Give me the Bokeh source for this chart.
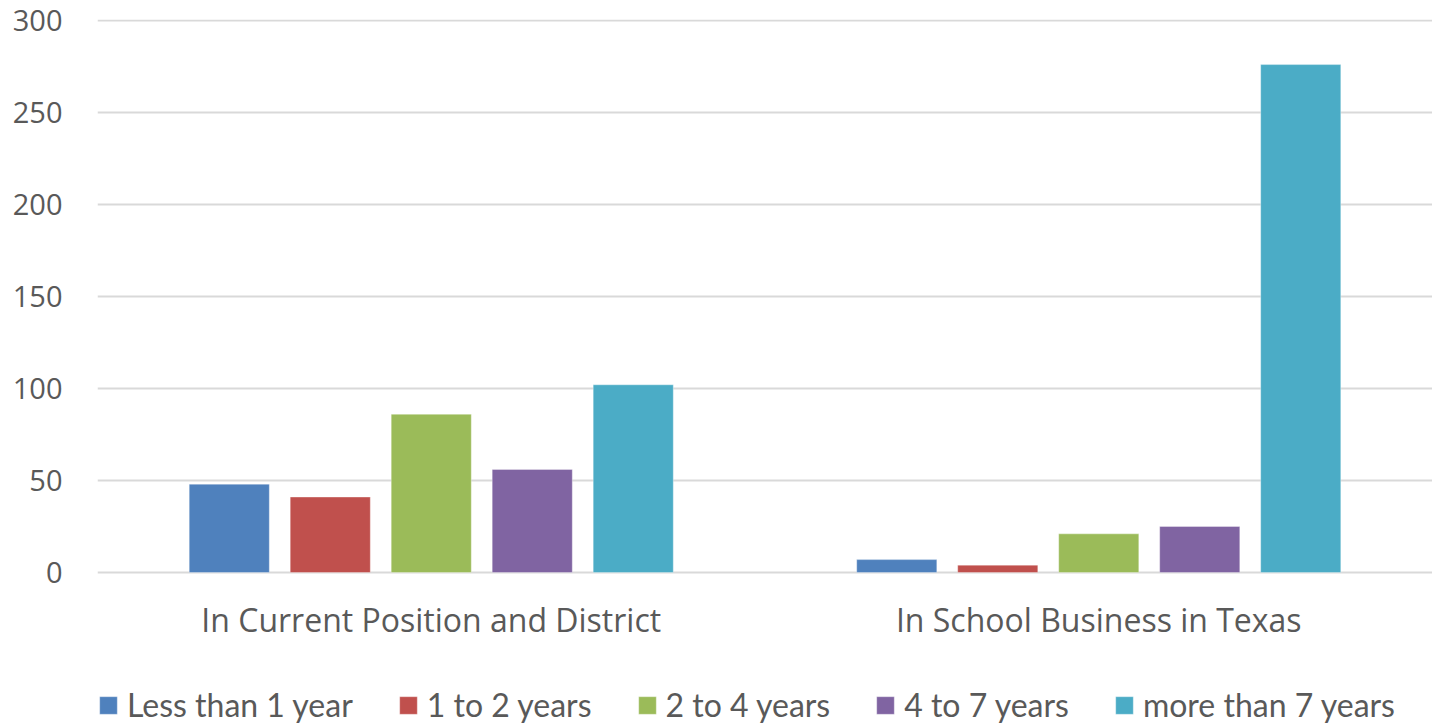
from bokeh.plotting import figure
from bokeh.models import ColumnDataSource, FactorRange, Legend, LegendItem, Range1d, FixedTicker
from bokeh.transform import dodge
from bokeh.embed import file_html
from bokeh.resources import INLINE

categories = ["In Current Position and District", "In School Business in Texas"]
series_names = ["Less than 1 year", "1 to 2 years", "2 to 4 years", "4 to 7 years", "more than 7 years"]
less_than_1 = [48, 7]
one_to_two = [41, 4]
two_to_four = [86, 21]
four_to_seven = [56, 25]
more_than_seven = [102, 276]
colors = ["#4F81BD", "#C0504D", "#9BBB59", "#8064A2", "#4BACC6"]
y_ticks = [0, 50, 100, 150, 200, 250, 300]

source = ColumnDataSource(data=dict(
    cat=categories,
    s0=less_than_1, s1=one_to_two, s2=two_to_four, s3=four_to_seven, s4=more_than_seven,
))

# frame extends below zero so that category labels and legend sit inside it
p = figure(
    x_range=FactorRange(factors=categories, range_padding=0),
    y_range=Range1d(-82.6, 300.5),
    frame_width=1335, frame_height=705,
    output_backend="svg", toolbar_location=None,
    min_border_left=97, min_border_right=0, min_border_top=19, min_border_bottom=0,
)

step = 0.1513
bw = 0.12
renderers = []
for i, key in enumerate(["s0", "s1", "s2", "s3", "s4"]):
    r = p.vbar(x=dodge("cat", (i - 2) * step, range=p.x_range), top=key, width=bw,
               source=source, fill_color=colors[i], line_color="white", line_alpha=0.35, line_width=1)
    renderers.append(r)

p.outline_line_color = None
p.xgrid.grid_line_color = None
p.ygrid.grid_line_color = "#d9d9d9"
p.ygrid.grid_line_width = 2
p.yaxis.ticker = FixedTicker(ticks=y_ticks)

p.yaxis.axis_line_color = None
p.yaxis.major_tick_line_color = None
p.yaxis.minor_tick_line_color = None
p.yaxis.major_tick_out = 0
p.yaxis.major_label_standoff = 35
p.yaxis.major_label_text_font = "Open Sans"
p.yaxis.major_label_text_font_size = "29px"
p.yaxis.major_label_text_color = "#595959"

p.xaxis.fixed_location = 0
p.xaxis.axis_line_color = None
p.xaxis.major_tick_line_color = None
p.xaxis.minor_tick_line_color = None
p.xaxis.major_tick_out = 0
p.xaxis.major_label_standoff = 26
p.xaxis.major_label_text_font = "Open Sans"
p.xaxis.major_label_text_font_size = "32px"
p.xaxis.major_label_text_color = "#595959"

legend = Legend(
    items=[LegendItem(label=series_names[i], renderers=[renderers[i]]) for i in range(5)],
    orientation="horizontal", nrows=1, ncols=5, location=(0, 0),
    label_text_font="Lato", label_text_font_size="32px", label_text_color="#595959",
    glyph_width=22, glyph_height=22, label_standoff=8, spacing=44,
    border_line_color=None, background_fill_alpha=0, margin=0, padding=0,
)
p.add_layout(legend)

open("out.html", "w").write(file_html(p, INLINE))
